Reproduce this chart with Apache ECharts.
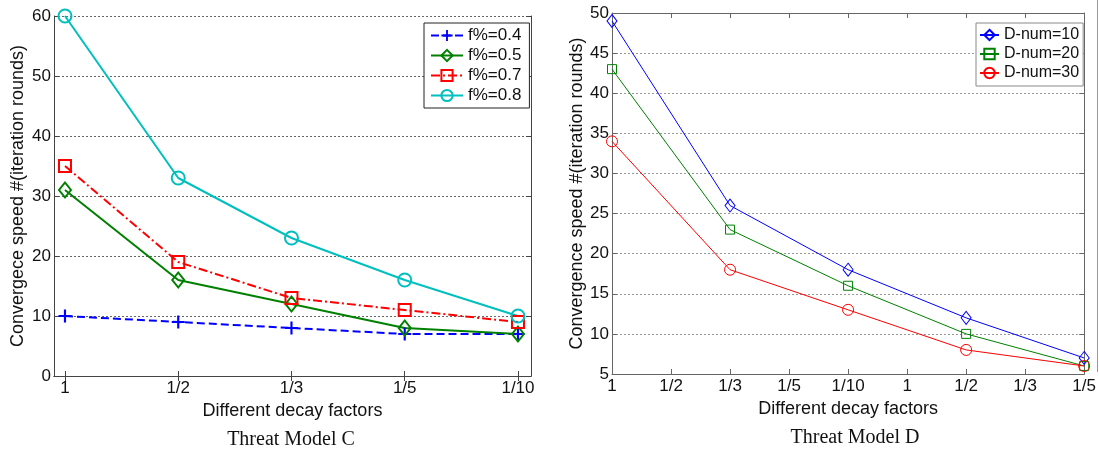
<!DOCTYPE html>
<html>
<head>
<meta charset="utf-8">
<script src="https://cdn.jsdelivr.net/npm/echarts@6/dist/echarts.min.js"></script>
<style>
html,body{margin:0;padding:0;background:#fff;}
#chart{width:1099px;height:450px;}
</style>
</head>
<body>
<div id="chart"></div>
<script>
// ---- Data: Threat Model C ----
var catsC = ['1', '1/2', '1/3', '1/5', '1/10'];
var namesC = ['f%=0.4', 'f%=0.5', 'f%=0.7', 'f%=0.8'];
var f04 = [10, 9, 8, 7, 7];
var f05 = [31, 16, 12, 8, 7];
var f07 = [35, 19, 13, 11, 9];
var f08 = [60, 33, 23, 16, 10];
var yTicksC = [0, 10, 20, 30, 40, 50, 60];

// ---- Data: Threat Model D ----
var catsD = ['1', '1/2', '1/3', '1/5', '1/10', '1', '1/2', '1/3', '1/5'];
var namesD = ['D-num=10', 'D-num=20', 'D-num=30'];
var dIdx = [0, 2, 4, 6, 8];
var d10 = [49, 26, 18, 12, 7];
var d20 = [43, 23, 16, 10, 6];
var d30 = [34, 18, 13, 8, 6];
var yTicksD = [5, 10, 15, 20, 25, 30, 35, 40, 45, 50];

var FONT = '"Liberation Sans", Arial, sans-serif';
var SERIF = '"Liberation Serif", "Times New Roman", serif';

function toXY(vals) { return vals.map(function (v, i) { return [i + 1, v]; }); }
function toCat(vals) {
  var arr = catsD.map(function () { return null; });
  dIdx.forEach(function (ci, i) { arr[ci] = vals[i]; });
  return arr;
}
var xPos = catsC.map(function (c, i) { return i + 1; });

var plusPath = 'path://M5,0H7V5H12V7H7V12H5V7H0V5H5Z';

var chart = echarts.init(document.getElementById('chart'), null, { renderer: 'canvas' });

var axisColC = '#444';
var axisColD = '#666';

var option = {
  animation: false,
  backgroundColor: '#fff',
  title: [
    { text: 'Threat Model C', left: 286, top: 425, textAlign: 'center',
      textStyle: { fontFamily: SERIF, fontSize: 20, fontWeight: 'normal', color: '#111' } },
    { text: 'Threat Model D', left: 850, top: 423, textAlign: 'center',
      textStyle: { fontFamily: SERIF, fontSize: 20, fontWeight: 'normal', color: '#111' } }
  ],
  grid: [
    { left: 54, top: 16, width: 477, height: 360, show: false },
    { left: 612, top: 13, width: 476, height: 361, show: false }
  ],
  legend: [
    { data: namesC, orient: 'vertical', left: 424, top: 23, itemWidth: 32, itemHeight: 14, itemGap: 3,
      padding: [4, 8, 4, 6], backgroundColor: '#fff', borderColor: '#222', borderWidth: 1, borderRadius: 0,
      textStyle: { fontFamily: FONT, fontSize: 17, color: '#111' } },
    { data: namesD, orient: 'vertical', left: 976, top: 23, itemWidth: 19, itemHeight: 13, itemGap: 3,
      padding: [4, 4, 5, 3], backgroundColor: '#fff', borderColor: '#888', borderWidth: 1, borderRadius: 0,
      textStyle: { fontFamily: FONT, fontSize: 16, color: '#111' } }
  ],
  xAxis: [
    { gridIndex: 0, type: 'value', position: 'bottom', min: 0.903, max: 5.115,
      axisLine: { show: true, lineStyle: { color: axisColC } },
      axisTick: { show: true, inside: true, length: 5, customValues: xPos, lineStyle: { color: axisColC } },
      axisLabel: { show: true, customValues: xPos, formatter: function (v) { return catsC[Math.round(v) - 1]; },
        fontFamily: FONT, fontSize: 17, color: '#111', margin: 4 },
      splitLine: { show: false },
      name: 'Different decay factors', nameLocation: 'middle', nameGap: 23,
      nameTextStyle: { fontFamily: FONT, fontSize: 18, color: '#111' } },
    { gridIndex: 0, type: 'value', position: 'top', min: 0.903, max: 5.115,
      axisLine: { show: true, lineStyle: { color: axisColC } },
      axisTick: { show: true, inside: true, length: 5, customValues: xPos, lineStyle: { color: axisColC } },
      axisLabel: { show: false }, splitLine: { show: false } },
    { gridIndex: 1, type: 'category', data: catsD, boundaryGap: false, position: 'bottom',
      axisLine: { show: true, lineStyle: { color: axisColD } },
      axisTick: { show: true, inside: true, length: 5, lineStyle: { color: axisColD } },
      axisLabel: { fontFamily: FONT, fontSize: 17, color: '#111', margin: 4, interval: 0 },
      splitLine: { show: false },
      name: 'Different decay factors', nameLocation: 'middle', nameGap: 21,
      nameTextStyle: { fontFamily: FONT, fontSize: 18, color: '#111' } },
    { gridIndex: 1, type: 'category', data: catsD, boundaryGap: false, position: 'top',
      axisLine: { show: true, lineStyle: { color: axisColD } },
      axisTick: { show: true, inside: true, length: 5, lineStyle: { color: axisColD } },
      axisLabel: { show: false }, splitLine: { show: false } }
  ],
  yAxis: [
    { gridIndex: 0, type: 'value', position: 'left', min: yTicksC[0], max: yTicksC[yTicksC.length - 1], interval: 10,
      axisLine: { show: true, lineStyle: { color: axisColC } },
      axisTick: { show: true, inside: true, length: 5, lineStyle: { color: axisColC } },
      axisLabel: { fontFamily: FONT, fontSize: 17, color: '#111', margin: 3 },
      splitLine: { show: true, lineStyle: { color: '#666', type: [2, 2], width: 1 } },
      name: 'Convergece speed #(iteration rounds)', nameLocation: 'middle', nameGap: 27,
      nameTextStyle: { fontFamily: FONT, fontSize: 18, color: '#111' } },
    { gridIndex: 0, type: 'value', position: 'right', min: yTicksC[0], max: yTicksC[yTicksC.length - 1], interval: 10,
      axisLine: { show: true, lineStyle: { color: axisColC } },
      axisTick: { show: true, inside: true, length: 5, lineStyle: { color: axisColC } },
      axisLabel: { show: false }, splitLine: { show: false } },
    { gridIndex: 1, type: 'value', position: 'left', min: yTicksD[0], max: yTicksD[yTicksD.length - 1], interval: 5,
      axisLine: { show: true, lineStyle: { color: axisColD } },
      axisTick: { show: true, inside: true, length: 5, lineStyle: { color: axisColD } },
      axisLabel: { fontFamily: FONT, fontSize: 17, color: '#111', margin: 3 },
      splitLine: { show: true, lineStyle: { color: '#999', type: [2, 2], width: 1 } },
      name: 'Convergence speed #(iteration rounds)', nameLocation: 'middle', nameGap: 24,
      nameTextStyle: { fontFamily: FONT, fontSize: 18, color: '#111' } },
    { gridIndex: 1, type: 'value', position: 'right', min: yTicksD[0], max: yTicksD[yTicksD.length - 1], interval: 5,
      axisLine: { show: true, lineStyle: { color: axisColD } },
      axisTick: { show: true, inside: true, length: 5, lineStyle: { color: axisColD } },
      axisLabel: { show: false }, splitLine: { show: false } }
  ],
  series: [
    { name: namesC[0], type: 'line', xAxisIndex: 0, yAxisIndex: 0, data: toXY(f04),
      symbol: plusPath, symbolSize: 13, color: '#0000ff',
      lineStyle: { color: '#0000ff', width: 2, type: [8, 4] },
      itemStyle: { color: '#0000ff', borderWidth: 0 } },
    { name: namesC[1], type: 'line', xAxisIndex: 0, yAxisIndex: 0, data: toXY(f05),
      symbol: 'diamond', symbolSize: [12, 15], color: '#008000',
      lineStyle: { color: '#008000', width: 2 },
      itemStyle: { color: 'rgba(255,255,255,0)', borderColor: '#008000', borderWidth: 2 } },
    { name: namesC[2], type: 'line', xAxisIndex: 0, yAxisIndex: 0, data: toXY(f07),
      symbol: 'rect', symbolSize: 12, color: '#ff0000',
      lineStyle: { color: '#ff0000', width: 2, type: [9, 3, 2, 3] },
      itemStyle: { color: 'rgba(255,255,255,0)', borderColor: '#ff0000', borderWidth: 2 } },
    { name: namesC[3], type: 'line', xAxisIndex: 0, yAxisIndex: 0, data: toXY(f08),
      symbol: 'circle', symbolSize: 13, color: '#00bfbf',
      lineStyle: { color: '#00bfbf', width: 2 },
      itemStyle: { color: 'rgba(255,255,255,0)', borderColor: '#00bfbf', borderWidth: 2 } },

    { name: namesD[0], type: 'line', xAxisIndex: 2, yAxisIndex: 2, data: toCat(d10), connectNulls: true,
      symbol: 'diamond', symbolSize: [10, 13], color: '#0000ff',
      lineStyle: { color: '#0000ff', width: 1 },
      itemStyle: { color: 'rgba(255,255,255,0)', borderColor: '#0000ff', borderWidth: 1 } },
    { name: namesD[1], type: 'line', xAxisIndex: 2, yAxisIndex: 2, data: toCat(d20), connectNulls: true,
      symbol: 'rect', symbolSize: 9, color: '#008000',
      lineStyle: { color: '#008000', width: 1 },
      itemStyle: { color: 'rgba(255,255,255,0)', borderColor: '#008000', borderWidth: 1 } },
    { name: namesD[2], type: 'line', xAxisIndex: 2, yAxisIndex: 2, data: toCat(d30), connectNulls: true,
      symbol: 'circle', symbolSize: 11, color: '#ff0000',
      lineStyle: { color: '#ff0000', width: 1 },
      itemStyle: { color: 'rgba(255,255,255,0)', borderColor: '#ff0000', borderWidth: 1 } }
  ],
  graphic: [
    { type: 'line', shape: { x1: 1097.5, y1: 0, x2: 1097.5, y2: 372 }, style: { stroke: '#999', lineWidth: 1 }, silent: true }
  ]
};
chart.setOption(option);
</script>
</body>
</html>
